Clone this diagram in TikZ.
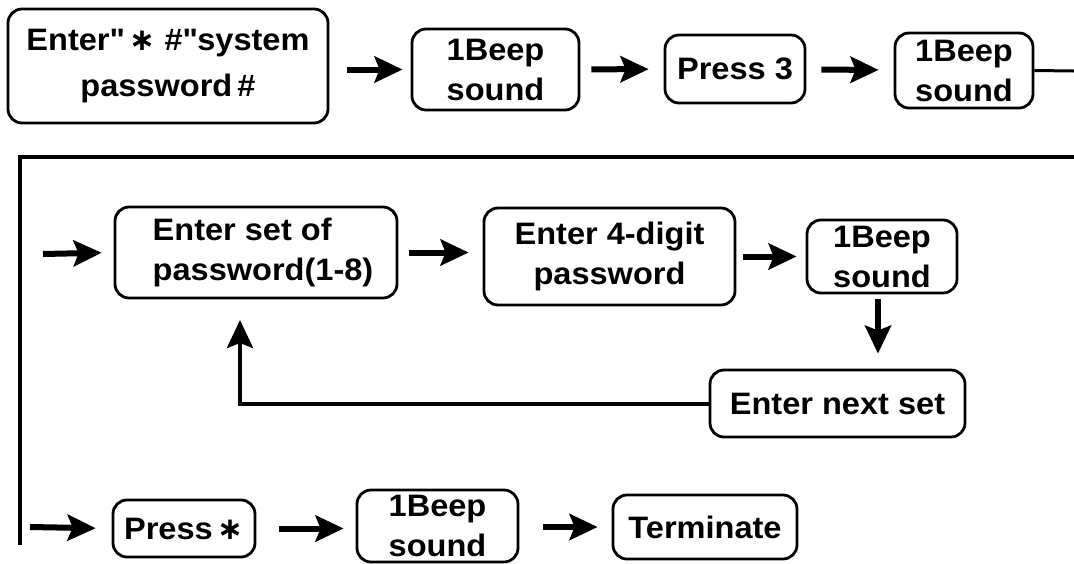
\documentclass[tikz,border=0pt]{standalone}
\usepackage{fontspec}
\setmainfont{Liberation Sans}[FakeStretch=1.05]
\newfontfamily\symfont{DejaVu Sans}
\usetikzlibrary{arrows.meta}
\newcommand{\myast}{{\symfont\bfseries ∗}}
\newcommand{\qd}{\textquotedbl}
\tikzset{
  box/.style={draw=black, line width=2.8pt, rounded corners=14pt, align=center,
    inner sep=0pt, font=\bfseries\fontsize{31}{40}\selectfont},
  arr/.style={line width=6pt, -{Stealth[length=28pt,width=26pt,inset=5pt]}},
  bus/.style={line width=4.8pt},
  thinline/.style={line width=3pt}
}
\begin{document}
\begin{tikzpicture}[x=1pt,y=-1pt]
\useasboundingbox (0,0) rectangle (1074,563);
% row 1
\node[box, minimum width=320pt, minimum height=114pt] (b1) at (168,66) {Enter\qd\,\myast\ \#\qd system\\[6pt]password\,\#};
\node[box, minimum width=167pt, minimum height=81pt] (b2) at (495.5,69.5) {1Beep\\sound};
\node[box, minimum width=140pt, minimum height=68pt] (b3) at (735,69) {Press 3};
\node[box, minimum width=138pt, minimum height=75pt] (b4) at (964,70.5) {1Beep\\sound};
\coordinate (r1) at (1074,71);
\draw[arr, shorten <=18pt, shorten >=8pt] (b1.east |- b2) -- (b2);
\draw[arr, shorten <=11pt, shorten >=15pt] (b2) -- (b3);
\draw[arr, shorten <=15pt, shorten >=15pt] (b3) -- (b4);
\draw[thinline] (b4.east) -- (r1);
% bus
\coordinate (tr) at (1074,157);
\coordinate (tl) at (20,157);
\coordinate (bl) at (20,545);
\draw[bus] (tr) -- (tl) -- (bl);
% row 2
\node[box, align=left, minimum width=282pt, minimum height=91pt] (c1) at (256,252.5) {\hspace*{14pt}Enter set of\\\hspace*{14pt}password(1-8)};
\node[box, minimum width=251pt, minimum height=97pt] (c2) at (609.5,256.5) {Enter 4-digit\\password};
\node[box, minimum width=150pt, minimum height=73pt] (c3) at (882,256.5) {1Beep\\sound};
\node[box, minimum width=255pt, minimum height=67pt] (c4) at (837.5,403.5) {Enter next set};
\coordinate (a2) at (43,254);
\coordinate (lp) at (240,298);
\draw[arr, shorten >=12pt] (a2) -- (c1.west);
\draw[arr, shorten <=11pt, shorten >=14pt] (c1.east) -- (c2.west |- c1.east);
\draw[arr, shorten <=7pt, shorten >=9pt] (c2.east |- c3) -- (c3.west);
\draw[arr, shorten <=5pt, shorten >=15pt] ([xshift=-4pt]c3.south) -- ([xshift=-4pt]c3.south |- c4.north);
\draw[arr, line width=4pt, shorten >=22pt] (c4.west) -| (lp);
% row 3
\node[box, minimum width=142pt, minimum height=57pt] (d1) at (184,528.5) {Press\,\myast};
\node[box, minimum width=161pt, minimum height=72pt] (d2) at (437.5,526) {1Beep\\sound};
\node[box, minimum width=184pt, minimum height=64pt] (d3) at (705,527) {Terminate};
\coordinate (a3) at (30,527);
\draw[arr, shorten >=16pt] (a3) -- (d1.west);
\draw[arr, shorten <=23pt, shorten >=12pt] (d1.east) -- (d2.west |- d1.east);
\draw[arr, shorten <=24pt, shorten >=14pt] (d2.east |- d3) -- (d3.west);
\end{tikzpicture}
\end{document}
